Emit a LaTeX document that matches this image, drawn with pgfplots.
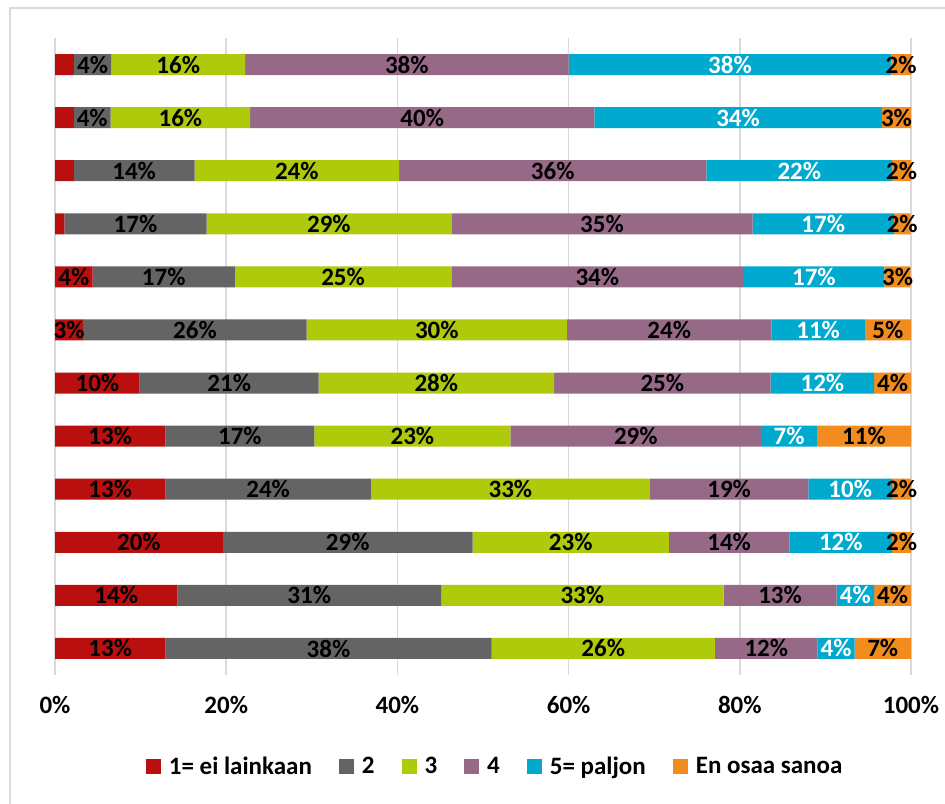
\documentclass[border=0pt]{standalone}
\usepackage{fontspec}
\setmainfont{Carlito}
\usepackage{pgfplots}
\pgfplotsset{compat=1.18}
\definecolor{cRed}{HTML}{BA0F0F}
\definecolor{cGray}{HTML}{646464}
\definecolor{cGreen}{HTML}{AFCA0B}
\definecolor{cPurple}{HTML}{966A87}
\definecolor{cBlue}{HTML}{00A9CE}
\definecolor{cOrange}{HTML}{F28C1E}
\definecolor{cGrid}{HTML}{D9D9D9}
\begin{document}
\begin{tikzpicture}
\begin{axis}[
  name=ax,
  scale only axis,
  width=428pt, height=318.5pt,
  xbar stacked,
  bar width=10.5pt,
  xmin=0, xmax=100,
  ymin=0.5, ymax=12.5,
  y dir=reverse,
  ytick=\empty,
  xtick={0,20,40,60,80,100},
  xticklabels={0\%,20\%,40\%,60\%,80\%,100\%},
  xmajorgrids,
  grid style={cGrid, line width=0.75pt},
  axis line style={draw=none},
  major tick length=0pt,
  xticklabel style={font=\fontsize{12.5}{14}\selectfont\bfseries, yshift=-7pt},
  point meta=explicit symbolic,
  nodes near coords={\ifnum\pgfplotspointmeta>0 \pgfplotspointmeta\%\fi},
  every node near coord/.append style={anchor=center, inner sep=0pt,
    font=\fontsize{12.5}{14}\selectfont\bfseries},
  legend columns=6,
  legend style={draw=none, fill=none, at={(axis description cs:0.513,-0.1444)}, anchor=center,
    font=\fontsize{12.5}{14}\selectfont\bfseries,
    nodes={inner sep=0pt},
    /tikz/every odd column/.append style={column sep=4pt},
    /tikz/every even column/.append style={column sep=13.5pt}},
  legend image code/.code={\fill[#1] (0pt,-3.75pt) rectangle (7.5pt,3.75pt);},
]
\addplot[fill=cRed, draw=none] table[x=v, y=r, meta=l] {
r v l
1 2.2 0
2 2.2 0
3 2.2 0
4 1.1 0
5 4.4 4
6 3.3 3
7 9.9 10
8 12.9 13
9 12.9 13
10 19.6 20
11 14.3 14
12 12.9 13
};
\addlegendentry{1= ei lainkaan}
\addplot[fill=cGray, draw=none] table[x=v, y=r, meta=l] {
r v l
1 4.4 4
2 4.3 4
3 14.1 14
4 16.6 17
5 16.6 17
6 26.1 26
7 20.9 21
8 17.4 17
9 24.0 24
10 29.2 29
11 30.8 31
12 38.1 38
};
\addlegendentry{2}
\addplot[fill=cGreen, draw=none] table[x=v, y=r, meta=l] {
r v l
1 15.6 16
2 16.3 16
3 23.9 24
4 28.6 29
5 25.3 25
6 30.4 30
7 27.5 28
8 22.9 23
9 32.6 33
10 22.9 23
11 33.0 33
12 26.1 26
};
\addlegendentry{3}
\addplot[fill=cPurple, draw=none] table[x=v, y=r, meta=l] {
r v l
1 37.8 38
2 40.2 40
3 35.9 36
4 35.2 35
5 34.1 34
6 23.9 24
7 25.3 25
8 29.3 29
9 18.5 19
10 14.1 14
11 13.2 13
12 12.0 12
};
\addlegendentry{4}
\addplot[fill=cBlue, draw=none, every node near coord/.append style={text=white}] table[x=v, y=r, meta=l] {
r v l
1 37.7 38
2 33.6 34
3 21.7 22
4 16.5 17
5 16.5 17
6 10.9 11
7 12.1 12
8 6.5 7
9 9.8 10
10 12.0 12
11 4.4 4
12 4.3 4
};
\addlegendentry{5= paljon}
\addplot[fill=cOrange, draw=none] table[x=v, y=r, meta=l] {
r v l
1 2.3 2
2 3.4 3
3 2.2 2
4 1.95 2
5 3.05 3
6 5.4 5
7 4.3 4
8 11.0 11
9 2.2 2
10 2.2 2
11 4.3 4
12 6.6 7
};
\addlegendentry{En osaa sanoa}
\coordinate (SW) at (axis description cs:0,0);
\coordinate (NE) at (axis description cs:1,1);
\end{axis}
\pgfresetboundingbox
\path[use as bounding box] ([xshift=-27.5pt,yshift=-64pt]SW) rectangle ([xshift=17pt,yshift=19pt]NE);
\draw[cGrid, line width=0.75pt] ([xshift=-22.5pt,yshift=-70pt]SW) -- ([xshift=-22.5pt,yshift=15pt]SW|-NE) -- ([xshift=25pt,yshift=15pt]NE);
\end{tikzpicture}
\end{document}
